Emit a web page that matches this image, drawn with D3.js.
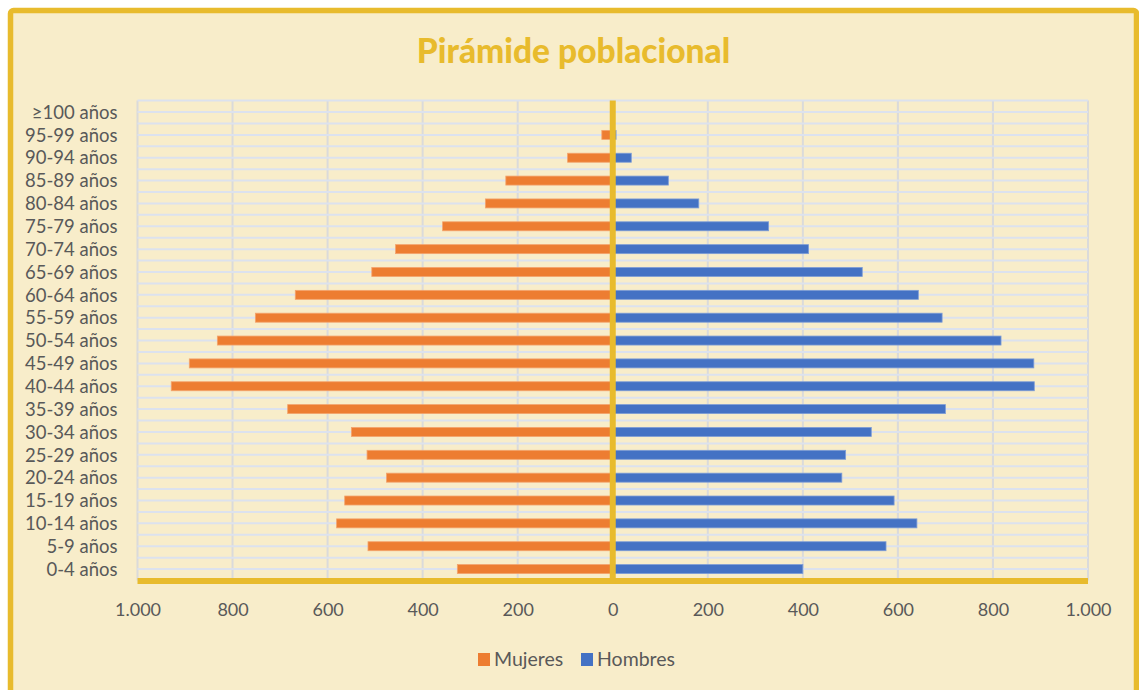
<!DOCTYPE html>
<html>
<head>
<meta charset="utf-8">
<script src="https://cdn.jsdelivr.net/npm/d3@7"></script>
<style>
  html, body { margin: 0; padding: 0; background: #ffffff; }
  svg { display: block; }
</style>
</head>
<body>
<svg id="chart" width="1139" height="690"></svg>
<script>
// ---- Data (youngest to oldest) ----
const ageGroups = ["0-4 años","5-9 años","10-14 años","15-19 años","20-24 años","25-29 años","30-34 años","35-39 años","40-44 años","45-49 años","50-54 años","55-59 años","60-64 años","65-69 años","70-74 años","75-79 años","80-84 años","85-89 años","90-94 años","95-99 años","≥100 años"];
const mujeres = [327, 515, 581, 564, 476, 517, 550, 684, 929, 891, 832, 752, 668, 507, 457, 358, 268, 225, 95, 23, 0];
const hombres = [400, 575, 640, 592, 482, 490, 544, 700, 887, 886, 817, 693, 643, 525, 412, 328, 181, 117, 39, 7, 0];
const tickValues = [-1000, -800, -600, -400, -200, 0, 200, 400, 600, 800, 1000];
const seriesNames = ["Mujeres", "Hombres"];
const titleText = "Pirámide poblacional";

// ---- Styles ----
const bg = "#F8EDCA";
const yellow = "#E8BB2D";
const orange = "#ED7D31";
const blue = "#4472C4";
const textCol = "#595959";
const font = "Lato, 'Open Sans', sans-serif";

const svg = d3.select("#chart");

// outer frame
svg.append("rect")
  .attr("x", 10.5).attr("y", 10.5)
  .attr("width", 1126).attr("height", 700)
  .attr("rx", 3)
  .attr("fill", bg)
  .attr("stroke", yellow)
  .attr("stroke-width", 5.5);

// title
svg.append("text")
  .attr("x", 573.5).attr("y", 62.5)
  .attr("text-anchor", "middle")
  .attr("font-family", font)
  .attr("font-weight", 900)
  .attr("font-size", 33.5)
  .attr("fill", yellow)
  .text(titleText);

// scales
const x = d3.scaleLinear().domain([-1000, 1000]).range([137.5, 1088]);
const y = d3.scaleBand().domain(ageGroups.slice().reverse()).range([100.6, 580.5]).padding(0);
const bw = y.bandwidth();
const barH = 9;

const esLocale = d3.formatLocale({decimal: ",", thousands: ".", grouping: [3], currency: ["", " €"]});
const fmt = esLocale.format(",");

// vertical gridlines
svg.append("g").selectAll("line")
  .data(tickValues)
  .join("line")
  .attr("x1", d => x(d)).attr("x2", d => x(d))
  .attr("y1", y.range()[0]).attr("y2", y.range()[1])
  .attr("stroke", "#DADADA")
  .attr("stroke-width", 2);

// horizontal gridlines (band edges and band centres)
const hLines = [];
ageGroups.forEach(c => { hLines.push(y(c)); hLines.push(y(c) + bw / 2); });
hLines.push(y.range()[1]);
svg.append("g").selectAll("line")
  .data(hLines)
  .join("line")
  .attr("x1", x(-1000)).attr("x2", x(1000))
  .attr("y1", d => d).attr("y2", d => d)
  .attr("stroke", "#DCE2EE")
  .attr("stroke-width", 2);

// bars
const rows = ageGroups.map((g, i) => ({g, m: mujeres[i], h: hombres[i]}));
svg.append("g").selectAll("rect")
  .data(rows)
  .join("rect")
  .attr("x", d => x(-d.m))
  .attr("width", d => x(0) - x(-d.m))
  .attr("y", d => y(d.g) + bw / 2 - barH / 2)
  .attr("height", barH)
  .attr("fill", orange)
  .attr("stroke", "#F3A46E")
  .attr("stroke-width", 0.8);

svg.append("g").selectAll("rect")
  .data(rows)
  .join("rect")
  .attr("x", x(0))
  .attr("width", d => x(d.h) - x(0))
  .attr("y", d => y(d.g) + bw / 2 - barH / 2)
  .attr("height", barH)
  .attr("fill", blue)
  .attr("stroke", "#7E9DD6")
  .attr("stroke-width", 0.8);

// bottom axis line (yellow)
svg.append("line")
  .attr("x1", x(-1000)).attr("x2", x(1000))
  .attr("y1", 581).attr("y2", 581)
  .attr("stroke", yellow)
  .attr("stroke-width", 6);

// centre vertical axis line (yellow)
svg.append("line")
  .attr("x1", x(0)).attr("x2", x(0))
  .attr("y1", y.range()[0]).attr("y2", 584)
  .attr("stroke", yellow)
  .attr("stroke-width", 6);

// x axis tick labels
const xAxis = d3.axisBottom(x).tickValues(tickValues).tickFormat(d => fmt(Math.abs(d))).tickSize(0).tickPadding(0);
const gx = svg.append("g").attr("transform", "translate(0,603)").call(xAxis);
gx.select(".domain").remove();
gx.selectAll("text")
  .attr("font-family", font)
  .attr("font-size", 18)
  .attr("fill", textCol)
  .attr("dy", "0.71em");

// y axis category labels
const yAxis = d3.axisLeft(y).tickSize(0).tickPadding(0);
const gy = svg.append("g").attr("transform", "translate(117.5,0.8)").call(yAxis);
gy.select(".domain").remove();
gy.selectAll("text")
  .attr("font-family", font)
  .attr("font-size", 18.5)
  .attr("fill", textCol);

// legend
const legend = svg.append("g");
const legendItems = [
  {name: seriesNames[0], color: orange, x: 478},
  {name: seriesNames[1], color: blue, x: 581}
];
legendItems.forEach(it => {
  legend.append("rect")
    .attr("x", it.x).attr("y", 653)
    .attr("width", 12).attr("height", 13)
    .attr("fill", it.color);
  legend.append("text")
    .attr("x", it.x + 16).attr("y", 659.5)
    .attr("dy", "0.35em")
    .attr("font-family", font)
    .attr("font-size", 19.5)
    .attr("fill", textCol)
    .text(it.name);
});
</script>
</body>
</html>
